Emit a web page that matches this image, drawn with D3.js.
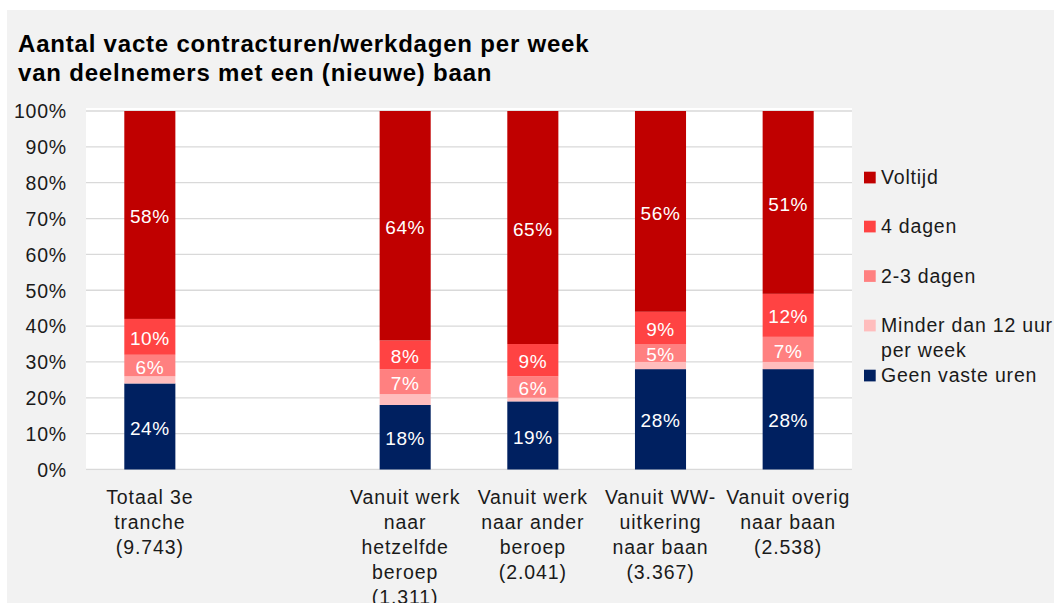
<!DOCTYPE html>
<html>
<head>
<meta charset="utf-8">
<script src="https://cdn.jsdelivr.net/npm/d3@7"></script>
<style>
  html, body { margin: 0; padding: 0; background: #ffffff; }
  svg { display: block; font-family: "Liberation Sans", Arial, sans-serif; }
</style>
</head>
<body>
<svg id="chart" width="1054" height="603"></svg>
<script>
// Category labels, one entry per group, already split into lines
const categoryLines = [
  ["Totaal 3e", "tranche", "(9.743)"],
  [],
  ["Vanuit werk", "naar", "hetzelfde", "beroep", "(1.311)"],
  ["Vanuit werk", "naar ander", "beroep", "(2.041)"],
  ["Vanuit WW-", "uitkering", "naar baan", "(3.367)"],
  ["Vanuit overig", "naar baan", "(2.538)"]
];

// Share of participants (%) per category, bottom to top
const geenVasteUren = [24, 0, 18, 19, 28, 28];
const minderDan12   = [2, 0, 3, 1, 2, 2];
const dagen23       = [6, 0, 7, 6, 5, 7];
const dagen4        = [10, 0, 8, 9, 9, 12];
const voltijd       = [58, 0, 64, 65, 56, 51];

const seriesNames = ["Geen vaste uren", "Minder dan 12 uur per week", "2-3 dagen", "4 dagen", "Voltijd"];
const seriesColors = ["#002060", "#ffbdbd", "#ff8080", "#ff4343", "#c00000"];
const showLabel = [true, false, true, true, true];

const yTicks = [0, 10, 20, 30, 40, 50, 60, 70, 80, 90, 100];

const titleLines = [
  "Aantal vacte contracturen/werkdagen per week",
  "van deelnemers met een (nieuwe) baan"
];

// Legend order (top to bottom) with wrapped names
const legendItems = [
  { series: 4, lines: ["Voltijd"] },
  { series: 3, lines: ["4 dagen"] },
  { series: 2, lines: ["2-3 dagen"] },
  { series: 1, lines: ["Minder dan 12 uur", "per week"] },
  { series: 0, lines: ["Geen vaste uren"] }
];

const seriesValues = [geenVasteUren, minderDan12, dagen23, dagen4, voltijd];
const rows = categoryLines.map((_, i) => {
  const r = { idx: i, empty: categoryLines[i].length === 0 };
  seriesNames.forEach((s, k) => { r[s] = seriesValues[k][i]; });
  return r;
});

const svg = d3.select("#chart");
const W = 1054, H = 603;
const textColor = "#1a1a1a";

// outer panel
svg.append("rect").attr("x", 7).attr("y", 10).attr("width", W - 7).attr("height", H - 10)
  .attr("fill", "#f2f2f2");

const plot = { left: 86, right: 852, top: 111, bottom: 469.5 };

// plot area
svg.append("rect")
  .attr("x", plot.left).attr("y", plot.top - 3)
  .attr("width", plot.right - plot.left).attr("height", plot.bottom - plot.top + 4)
  .attr("fill", "#ffffff");

const x = d3.scaleBand()
  .domain(rows.map(r => r.idx))
  .range([plot.left, plot.right])
  .paddingInner(0.6).paddingOuter(0.3);

const y = d3.scaleLinear().domain([0, 100]).range([plot.bottom, plot.top]);

// gridlines
svg.append("g").selectAll("line").data(yTicks).join("line")
  .attr("x1", plot.left).attr("x2", plot.right)
  .attr("y1", d => y(d)).attr("y2", d => y(d))
  .attr("stroke", "#d9d9d9").attr("stroke-width", 1.3);

// y axis labels
const yAxis = d3.axisLeft(y).tickValues(yTicks).tickFormat(d => d + "%").tickSize(0).tickPadding(0);
const yg = svg.append("g").attr("transform", `translate(67,0)`).call(yAxis);
yg.select(".domain").remove();
yg.selectAll("text").attr("font-size", 19.5).attr("fill", textColor)
  .attr("letter-spacing", 0.8)
  .attr("font-family", "Liberation Sans, Arial, sans-serif").attr("dy", "0.35em");

// stacked bars
const stack = d3.stack().keys(seriesNames);
const stacked = stack(rows);

const layers = svg.append("g").selectAll("g").data(stacked).join("g")
  .attr("fill", (d, i) => seriesColors[i]);

layers.selectAll("rect").data(d => d.filter(p => !p.data.empty)).join("rect")
  .attr("x", d => x(d.data.idx))
  .attr("width", x.bandwidth())
  .attr("y", d => y(d[1]))
  .attr("height", d => y(d[0]) - y(d[1]));

// value labels
const labels = svg.append("g");
stacked.forEach((layer, k) => {
  if (!showLabel[k]) return;
  labels.selectAll(null).data(layer.filter(p => !p.data.empty)).join("text")
    .attr("x", d => x(d.data.idx) + x.bandwidth() / 2)
    .attr("y", d => (y(d[0]) + y(d[1])) / 2 + 1.5)
    .attr("dy", "0.35em")
    .attr("text-anchor", "middle")
    .attr("font-size", 19)
    .attr("letter-spacing", 0.6)
    .attr("fill", "#ffffff")
    .text(d => (d[1] - d[0]) + "%");
});

// category labels
const cat = svg.append("g");
categoryLines.forEach((lines, i) => {
  const cx = x(i) + x.bandwidth() / 2;
  const t = cat.append("text")
    .attr("x", cx)
    .attr("y", 504)
    .attr("text-anchor", "middle")
    .attr("font-size", 19.5)
    .attr("letter-spacing", 0.9)
    .attr("fill", textColor);
  lines.forEach((ln, j) => {
    t.append("tspan").attr("x", cx).attr("dy", j === 0 ? 0 : 25).text(ln);
  });
});

// title
const title = svg.append("text").attr("x", 18).attr("y", 52)
  .attr("font-size", 24).attr("font-weight", "bold").attr("letter-spacing", 0.8)
  .attr("fill", "#000000");
titleLines.forEach((ln, j) => {
  title.append("tspan").attr("x", 18).attr("dy", j === 0 ? 0 : 28.5).text(ln);
});

// legend
const legendY = [177.5, 226.5, 276, 325.5, 375.5];
const legend = svg.append("g");
legendItems.forEach((item, i) => {
  const cy = legendY[i];
  legend.append("rect").attr("x", 864).attr("y", cy - 5.8).attr("width", 11.7).attr("height", 11.7)
    .attr("fill", seriesColors[item.series]);
  const t = legend.append("text").attr("x", 881).attr("y", cy)
    .attr("font-size", 19.5).attr("letter-spacing", 0.8).attr("fill", textColor);
  item.lines.forEach((ln, j) => {
    t.append("tspan").attr("x", 881).attr("dy", j === 0 ? "0.35em" : 24.5).text(ln);
  });
});
</script>
</body>
</html>
